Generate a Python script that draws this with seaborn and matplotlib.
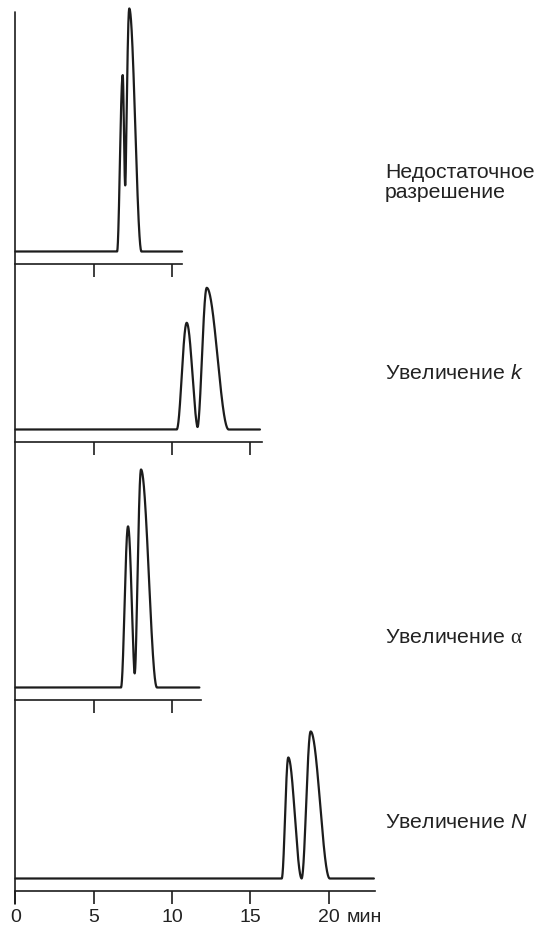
import numpy as np
import pandas as pd
import matplotlib
matplotlib.use("Agg")
import matplotlib.pyplot as plt
from matplotlib.lines import Line2D
import seaborn as sns

# ---------------- data ----------------
panel_labels = ["Недостаточное\nразрешение", "Увеличение $k$",
                "Увеличение $\\mathrm{\\alpha}$", "Увеличение $N$"]
# retention times (min) of the two peaks in each chromatogram
rt_1 = [6.85, 7.27]
rt_2 = [10.94, 12.22]
rt_3 = [7.19, 8.02]
rt_4 = [17.43, 18.86]
# relative peak heights
height_1 = [0.726, 1.000]
height_2 = [0.439, 0.583]
height_3 = [0.663, 0.897]
height_4 = [0.498, 0.605]
# leading / tailing half-widths at the base (min)
lead_1 = [0.36, 0.37]
tail_1 = [0.20, 0.78]
lead_2 = [0.64, 0.62]
tail_2 = [0.75, 1.40]
lead_3 = [0.45, 0.45]
tail_3 = [0.50, 1.02]
lead_4 = [0.42, 0.58]
tail_4 = [0.86, 1.22]
# run length (end of trace) and axis length, min
trace_end = [10.64, 15.62, 11.75, 22.90]
axis_end = [10.64, 15.73, 11.85, 22.97]
ticks_top = [5, 10]
ticks_k = [5, 10, 15]
ticks_alpha = [5, 10]
ticks_N = [0, 5, 10, 15, 20]
tick_labels_N = ["0", "5", "10", "15", "20"]
unit_label = "мин"

panels = [
    (rt_1, height_1, lead_1, tail_1, ticks_top),
    (rt_2, height_2, lead_2, tail_2, ticks_k),
    (rt_3, height_3, lead_3, tail_3, ticks_alpha),
    (rt_4, height_4, lead_4, tail_4, ticks_N),
]


def chromatogram(rts, hs, leads, tails, t_end):
    t = np.linspace(0, t_end, 4000)
    y = np.zeros_like(t)
    for rt, h, a, b in zip(rts, hs, leads, tails):
        d = t - rt
        w = np.where(d < 0, a, b)
        inside = np.abs(d) < w
        y += np.where(inside, h * np.cos(np.pi * d / (2 * w)) ** 2, 0.0)
    return pd.DataFrame({"time": t, "signal": y})


# ---------------- layout ----------------
W, H = 541, 928
DPI = 100
sns.set_theme(style="white")
plt.rcParams["font.family"] = ["Liberation Sans", "DejaVu Sans"]
plt.rcParams["mathtext.fontset"] = "custom"
plt.rcParams["mathtext.it"] = "Liberation Sans:italic"
plt.rcParams["mathtext.rm"] = "Liberation Serif"

INK = "#1c1c1c"
TXT = "#222222"
x0_px = 15.5          # pixel position of t = 0
px_per_min = 15.65
y_px_per_unit = 243.0
base_off = 12.5       # baseline above axis line, px

axis_y = [265, 443, 701, 892]
top_y = [0, 275, 455, 715]
label_baseline = [198, 379, 643, 828]

fig = plt.figure(figsize=(W / DPI, H / DPI), dpi=DPI)
fig.patch.set_facecolor("white")

xlim = (-x0_px / px_per_min, (W - x0_px) / px_per_min)

for i, (rts, hs, leads, tails, ticks) in enumerate(panels):
    ax = fig.add_axes([0, 1 - axis_y[i] / H, 1, (axis_y[i] - top_y[i]) / H])
    ax.set_facecolor("none")
    df = chromatogram(rts, hs, leads, tails, trace_end[i])
    sns.lineplot(data=df, x="time", y="signal", ax=ax, color=INK,
                 linewidth=1.6, clip_on=False)
    ax.set_xlim(*xlim)
    ybot = -base_off / y_px_per_unit
    ax.set_ylim(ybot, ybot + (axis_y[i] - top_y[i]) / y_px_per_unit)
    for s in ("left", "top", "right"):
        ax.spines[s].set_visible(False)
    ax.spines["bottom"].set_bounds(0, axis_end[i])
    ax.spines["bottom"].set_linewidth(1.2)
    ax.spines["bottom"].set_color(INK)
    ax.set_yticks([])
    ax.set_xticks(ticks)
    ax.tick_params(axis="x", direction="out", length=9.4, width=1.2,
                   color=INK, pad=2.8, labelsize=14, labelcolor=TXT,
                   bottom=True)
    if i == 3:
        ax.set_xticklabels(tick_labels_N)
    else:
        ax.set_xticklabels([])
    ax.set_xlabel("")
    ax.set_ylabel("")

    fig.text(385 / W, 1 - label_baseline[i] / H, panel_labels[i],
             fontsize=15.3, color=TXT, ha="left", va="baseline",
             linespacing=1.05)

fig.canvas.draw()
# unit label on the same baseline as the tick labels of the last panel
lab = fig.axes[-1].get_xticklabels()[-1]
fig.text(347 / W, lab.get_window_extent().y0 / H + 0.0, unit_label,
         fontsize=14, color=TXT, ha="left", va="bottom")

# common vertical (signal) axis
fig.add_artist(Line2D([x0_px / W, x0_px / W], [1 - 13 / H, 1 - 905 / H],
                      transform=fig.transFigure, color=INK, linewidth=1.2))

fig.savefig("out.png", dpi=DPI, facecolor="white")
